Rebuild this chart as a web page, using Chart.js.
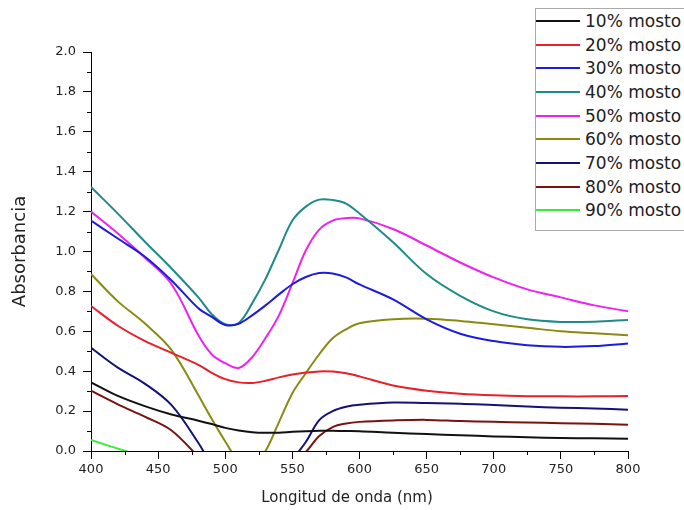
<!DOCTYPE html>
<html>
<head>
<meta charset="utf-8">
<script src="https://cdn.jsdelivr.net/npm/chart.js@4.4.1/dist/chart.umd.min.js"></script>
<style>
  html, body { margin: 0; padding: 0; background: #fff; overflow: hidden; }
  #wrap { position: relative; width: 684px; height: 510px; }
  #legend {
    position: absolute; left: 535px; top: 8px; width: 170px; height: 213px;
    padding-bottom: 8px; border: 1px solid #aaa; background: #fff;
    font: 17px 'DejaVu Sans', sans-serif; color: #222;
  }
  .row { height: 23.7px; display: flex; align-items: center; white-space: nowrap; }
  .swatch { width: 44px; height: 2px; margin-right: 5px; }
</style>
</head>
<body>
<div id="wrap">
  <canvas id="chart" width="684" height="510"></canvas>
  <div id="legend"></div>
</div>
<script>
// wavelength grid (nm) shared by all series
const wavelengths = [400, 420, 440, 460, 480, 490, 500, 510, 520, 530, 540, 550, 560,
                     570, 580, 590, 600, 625, 650, 675, 700, 725, 750, 775, 800];

// absorbance (values below 0 run off the axis)
const mosto10 = [0.344, 0.276, 0.225, 0.183, 0.152, 0.135, 0.116, 0.103, 0.094, 0.091, 0.092, 0.096, 0.099,
                 0.101, 0.101, 0.100, 0.099, 0.091, 0.085, 0.079, 0.073, 0.069, 0.065, 0.064, 0.062];
const mosto20 = [0.727, 0.628, 0.552, 0.492, 0.432, 0.392, 0.360, 0.344, 0.341, 0.352, 0.369, 0.383, 0.393,
                 0.399, 0.398, 0.390, 0.374, 0.328, 0.302, 0.287, 0.279, 0.275, 0.274, 0.274, 0.276];
const mosto30 = [1.155, 1.065, 0.975, 0.855, 0.715, 0.672, 0.632, 0.638, 0.680, 0.730, 0.785, 0.836, 0.872,
                 0.892, 0.890, 0.870, 0.835, 0.760, 0.660, 0.588, 0.551, 0.530, 0.522, 0.526, 0.539];
const mosto40 = [1.323, 1.190, 1.050, 0.915, 0.770, 0.685, 0.635, 0.642, 0.740, 0.863, 1.010, 1.155, 1.225,
                 1.260, 1.258, 1.240, 1.190, 1.046, 0.887, 0.778, 0.700, 0.660, 0.647, 0.648, 0.657];
const mosto50 = [1.200, 1.090, 0.970, 0.836, 0.580, 0.484, 0.440, 0.416, 0.470, 0.566, 0.680, 0.840, 1.005,
                 1.110, 1.155, 1.167, 1.166, 1.113, 1.030, 0.945, 0.870, 0.810, 0.770, 0.730, 0.700];
const mosto60 = [0.887, 0.750, 0.640, 0.506, 0.280, 0.160, 0.048, -0.050, -0.080, 0.000, 0.145, 0.290, 0.390,
                 0.485, 0.565, 0.610, 0.640, 0.660, 0.663, 0.652, 0.635, 0.618, 0.600, 0.590, 0.580];
const mosto70 = [0.517, 0.418, 0.338, 0.230, 0.040, -0.070, -0.150, -0.200, -0.200, -0.160, -0.100, -0.040, 0.045,
                 0.155, 0.200, 0.222, 0.232, 0.243, 0.240, 0.237, 0.230, 0.223, 0.217, 0.213, 0.207];
const mosto80 = [0.302, 0.234, 0.172, 0.103, -0.030, -0.100, -0.160, -0.200, -0.200, -0.160, -0.110, -0.060, -0.005,
                 0.075, 0.120, 0.138, 0.146, 0.153, 0.156, 0.150, 0.146, 0.143, 0.139, 0.136, 0.131];
const mosto90 = [0.055, 0.012, -0.030];

const seriesLabels = ['10% mosto', '20% mosto', '30% mosto', '40% mosto', '50% mosto',
                      '60% mosto', '70% mosto', '80% mosto', '90% mosto'];
const seriesColors = ['#111111', '#e8202a', '#1c1ce0', '#1f8a8a', '#ee22ee',
                      '#8a8a12', '#12127a', '#7a1212', '#33ee33'];
const seriesValues = [mosto10, mosto20, mosto30, mosto40, mosto50, mosto60, mosto70, mosto80, mosto90];

const xTicks = [400, 450, 500, 550, 600, 650, 700, 750, 800];
const yTicks = [0, 0.2, 0.4, 0.6, 0.8, 1.0, 1.2, 1.4, 1.6, 1.8, 2.0];

const isMajorX = v => xTicks.includes(v);
const isMajorY = v => yTicks.some(t => Math.abs(t - v) < 1e-6);

Chart.defaults.font.family = "'DejaVu Sans', sans-serif";
Chart.defaults.color = '#222';

// short minor ticks (Chart.js only has one tick length per axis)
const minorTicks = {
  id: 'minorTicks',
  afterDraw(chart) {
    const { ctx, scales: { x, y } } = chart;
    ctx.save();
    ctx.strokeStyle = '#000';
    ctx.lineWidth = 1;
    ctx.beginPath();
    x.ticks.forEach(t => {
      if (isMajorX(t.value)) return;
      const px = Math.round(x.getPixelForValue(t.value)) + 0.5;
      ctx.moveTo(px, x.top);
      ctx.lineTo(px, x.top + 4);
    });
    y.ticks.forEach(t => {
      if (isMajorY(t.value)) return;
      const py = Math.round(y.getPixelForValue(t.value)) + 0.5;
      ctx.moveTo(y.right - 4, py);
      ctx.lineTo(y.right, py);
    });
    ctx.stroke();
    ctx.restore();
  },
};

// x title sits a bit left of the plot centre in the original
const xTitle = {
  id: 'xTitle',
  afterDraw(chart) {
    const { ctx } = chart;
    ctx.save();
    ctx.font = "15px 'DejaVu Sans', sans-serif";
    ctx.fillStyle = '#222';
    ctx.textAlign = 'center';
    ctx.textBaseline = 'middle';
    ctx.fillText('Longitud de onda (nm)', 347, 498);
    ctx.restore();
  },
};

const datasets = seriesValues.map((vals, i) => ({
  label: seriesLabels[i],
  data: vals.map((v, j) => ({ x: wavelengths[j], y: v })),
  borderColor: seriesColors[i],
  backgroundColor: seriesColors[i],
  borderWidth: 2,
  pointRadius: 0,
  tension: 0.35,
  fill: false,
}));

new Chart(document.getElementById('chart'), {
  type: 'line',
  data: { datasets },
  plugins: [minorTicks, xTitle],
  options: {
    responsive: false,
    animation: false,
    devicePixelRatio: 1,
    layout: { padding: { top: 52, right: 56, left: 0, bottom: 0 } },
    plugins: { legend: { display: false }, tooltip: { enabled: false } },
    scales: {
      x: {
        type: 'linear', min: 400, max: 800,
        afterFit: s => { s.height = 59; },
        border: { display: true, color: '#000', width: 1 },
        grid: {
          drawOnChartArea: false, tickLength: 8,
          tickColor: c => isMajorX(c.tick.value) ? '#000' : 'rgba(0,0,0,0)',
        },
        ticks: {
          stepSize: 25, autoSkip: false, maxRotation: 0, padding: 3,
          font: { size: 13 },
          callback: v => isMajorX(v) ? String(v) : '',
        },
      },
      y: {
        min: 0, max: 2,
        afterFit: s => { s.width = 91; },
        border: { display: true, color: '#000', width: 1 },
        grid: {
          drawOnChartArea: false, tickLength: 8,
          tickColor: c => isMajorY(c.tick.value) ? '#000' : 'rgba(0,0,0,0)',
        },
        ticks: {
          stepSize: 0.1, autoSkip: false, padding: 7,
          font: { size: 13 },
          callback: v => isMajorY(v) ? v.toFixed(1) : '',
        },
        title: {
          display: true, text: 'Absorbancia',
          font: { size: 18 }, color: '#222', padding: { top: 10, bottom: 0 },
        },
      },
    },
  },
});

// legend drawn as HTML so it can sit over the plot corner
const legend = document.getElementById('legend');
seriesLabels.forEach((name, i) => {
  const row = document.createElement('div');
  row.className = 'row';
  row.innerHTML = `<span class="swatch" style="background:${seriesColors[i]}"></span><span>${name}</span>`;
  legend.appendChild(row);
});
</script>
</body>
</html>
